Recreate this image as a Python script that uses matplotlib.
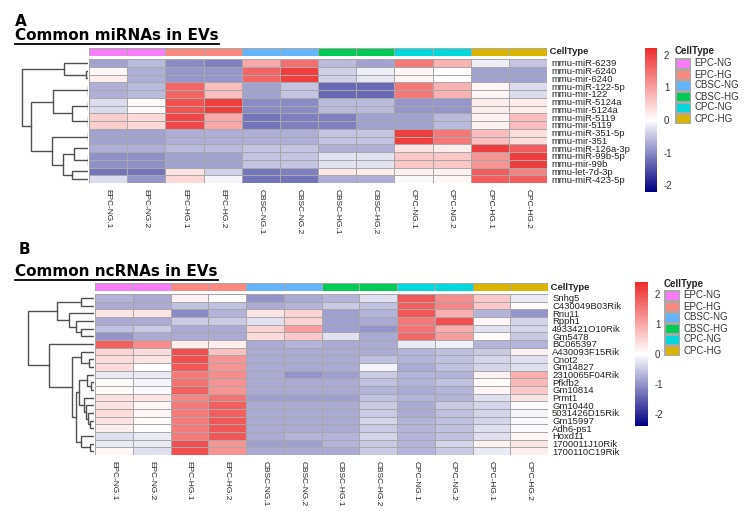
import numpy as np
import matplotlib
matplotlib.use("Agg")
import matplotlib.pyplot as plt
from matplotlib.colors import LinearSegmentedColormap, ListedColormap
from matplotlib.lines import Line2D

W, H = 752, 511

samples = ["EPC-NG.1", "EPC-NG.2", "EPC-HG.1", "EPC-HG.2",
           "CBSC-NG.1", "CBSC-NG.2", "CBSC-HG.1", "CBSC-HG.2",
           "CPC-NG.1", "CPC-NG.2", "CPC-HG.1", "CPC-HG.2"]
groups = ["EPC-NG", "EPC-HG", "CBSC-NG", "CBSC-HG", "CPC-NG", "CPC-HG"]
group_colors = ["#F77CF7", "#FA8A80", "#63B4FA", "#00CC55", "#00D8DC", "#D9B400"]
sample_group = [0, 0, 1, 1, 2, 2, 3, 3, 4, 4, 5, 5]

mirna_names = ["mmu-miR-6239", "mmu-miR-6240", "mmu-mir-6240", "mmu-miR-122-5p",
               "mmu-mir-122", "mmu-miR-5124a", "mmu-mir-5124a", "mmu-miR-5119",
               "mmu-mir-5119", "mmu-miR-351-5p", "mmu-mir-351", "mmu-miR-126a-3p",
               "mmu-miR-99b-5p", "mmu-mir-99b", "mmu-let-7d-3p", "mmu-miR-423-5p"]
mirna_z = [
    [-0.8, -0.6, -1.0, -1.1, 0.9, 1.5, -0.6, -0.8, 1.4, 0.8, -0.15, -0.5],
    [0.1, -0.7, -0.9, -0.9, 1.6, 2.0, -0.4, -0.15, 0.1, 0.02, -0.8, -0.8],
    [0.2, -0.7, -0.9, -0.9, 1.6, 2.0, -0.4, -0.2, 0.1, 0.02, -0.8, -0.8],
    [-0.7, -0.6, 1.6, 0.7, -0.8, -0.5, -1.3, -1.3, 1.4, 0.8, 0.1, -0.3],
    [-0.7, -0.6, 1.6, 0.7, -0.8, -0.5, -1.3, -1.3, 1.4, 0.8, 0.1, -0.3],
    [-0.3, 0.05, 1.8, 2.0, -1.0, -1.0, -0.6, -0.6, -0.9, -0.9, 0.2, 0.2],
    [-0.3, 0.05, 1.8, 2.0, -1.0, -1.0, -0.6, -0.6, -0.9, -0.9, 0.2, 0.2],
    [0.5, 0.4, 1.9, 0.9, -1.2, -1.1, -1.1, -0.8, -0.8, -0.6, 0.15, 0.7],
    [0.5, 0.4, 1.9, 0.9, -1.2, -1.1, -1.1, -0.8, -0.8, -0.6, 0.15, 0.7],
    [-0.8, -0.8, -0.7, -0.7, -0.7, -0.7, -0.5, -0.5, 2.0, 1.4, 0.7, 0.35],
    [-0.8, -0.8, -0.7, -0.7, -0.7, -0.7, -0.5, -0.5, 2.0, 1.4, 0.7, 0.35],
    [-0.7, -0.7, -0.6, -0.6, -0.5, -0.5, -0.7, -0.7, 0.3, 0.2, 2.0, 1.7],
    [-0.95, -0.95, -0.8, -0.8, -0.5, -0.5, -0.25, -0.25, 0.6, 0.6, 1.1, 2.0],
    [-0.95, -0.95, -0.8, -0.8, -0.5, -0.5, -0.25, -0.25, 0.6, 0.6, 1.1, 2.0],
    [-1.2, -1.2, 0.3, -0.4, -1.2, -1.1, 0.25, 0.2, 0.15, 0.15, 1.7, 1.3],
    [-0.3, -0.9, 0.4, -0.1, -1.2, -1.2, -0.7, -0.7, -0.05, 0.1, 1.7, 1.7],
]
# hclust-like merges: (left node, right node, height in px); new node = n_leaves + index
mirna_tree = [(1, 2, 2), (0, 16, 24), (3, 4, 0), (5, 6, 0), (7, 8, 0),
              (19, 20, 16), (18, 21, 35), (9, 10, 0), (12, 13, 0), (11, 24, 14),
              (14, 15, 16), (25, 26, 25), (23, 27, 36), (22, 28, 57), (17, 29, 66)]

ncrna_names = ["Snhg5", "C430049B03Rik", "Rnu11", "Rpph1", "4933421O10Rik", "Gm5478",
               "BC065397", "A430093F15Rik", "Cnot2", "Gm14827", "2310065F04Rik",
               "Pfkfb2", "Gm10814", "Prmt1", "Gm10440", "5031426D15Rik", "Gm15997",
               "Adh6-ps1", "Hoxd11", "1700011J10Rik", "1700110C19Rik"]
ncrna_z = [
    [-0.7, -0.8, 0.15, 0.03, -1.0, -0.8, -0.7, -0.3, 1.9, 1.3, 0.6, -0.2],
    [-0.8, -0.8, -0.6, -0.6, -0.8, -0.7, -0.5, -0.6, 1.8, 1.4, 0.6, 0.05],
    [0.3, 0.3, -1.1, -0.7, 0.3, 0.5, -0.9, -0.7, 1.9, 0.9, -0.7, -1.0],
    [-0.8, -0.8, -0.5, -0.5, -0.3, 0.5, -0.9, -0.8, 1.5, 2.0, 0.1, -0.4],
    [-0.6, -0.5, -0.8, -0.8, 0.5, 1.1, -0.9, -1.0, 1.6, 0.9, -0.3, -0.4],
    [-1.0, -0.8, -0.8, -0.8, 0.4, 0.6, -0.3, -0.8, 1.7, 1.1, 0.05, -0.5],
    [1.8, 1.3, 0.2, 0.2, -0.8, -0.7, -0.8, -0.8, -0.2, -0.15, -0.7, -0.7],
    [0.5, 0.4, 2.0, 0.7, -0.8, -0.8, -0.8, -0.8, -0.7, -0.6, -0.5, 0.15],
    [0.4, 0.3, 2.0, 1.2, -0.8, -0.8, -0.8, -0.6, -0.7, -0.6, -0.4, -0.3],
    [0.4, 0.0, 1.9, 1.2, -0.8, -0.8, -0.8, -0.1, -0.8, -0.6, -0.4, -0.3],
    [-0.2, -0.2, 1.5, 1.3, -0.8, -1.0, -0.9, -0.5, -0.7, -0.7, 0.15, 0.9],
    [0.05, -0.1, 1.6, 1.2, -0.8, -0.8, -0.8, -0.6, -0.7, -0.6, 0.05, 0.8],
    [0.05, -0.05, 1.8, 1.2, -0.8, -0.8, -0.8, -0.7, -0.8, -0.7, 0.1, 0.6],
    [0.35, 0.3, 1.4, 1.6, -0.9, -0.9, -0.9, -0.6, -0.7, -0.7, -0.3, 0.3],
    [0.3, 0.1, 1.5, 1.8, -0.8, -0.8, -0.8, -0.5, -0.8, -0.5, -0.4, -0.05],
    [0.4, 0.1, 1.5, 1.8, -0.8, -0.8, -0.8, -0.5, -0.8, -0.6, -0.4, -0.1],
    [0.3, 0.05, 1.5, 1.9, -0.8, -0.8, -0.8, -0.4, -0.7, -0.6, -0.4, -0.05],
    [0.2, 0.0, 1.5, 1.9, -0.8, -0.8, -0.8, -0.5, -0.7, -0.6, -0.3, -0.05],
    [-0.3, -0.2, 1.5, 1.9, -0.8, -0.7, -0.7, -0.4, -0.7, -0.6, -0.3, 0.1],
    [-0.2, -0.2, 2.0, 1.2, -0.9, -0.9, -0.7, -0.5, -0.7, -0.4, 0.15, 0.3],
    [0.1, -0.3, 2.0, 1.2, -0.8, -0.8, -0.8, -0.5, -0.7, -0.5, -0.2, 0.2],
]
ncrna_tree = [(0, 1, 13), (4, 5, 13), (3, 22, 18), (2, 23, 25), (21, 24, 37),
              (8, 9, 5), (7, 26, 13), (11, 12, 3), (10, 28, 7), (16, 17, 4),
              (15, 30, 6), (14, 31, 8), (13, 32, 10), (29, 33, 15), (19, 20, 4),
              (18, 35, 13), (34, 36, 18), (27, 37, 22), (6, 38, 45), (25, 39, 66)]

heat_cmap = LinearSegmentedColormap.from_list("nwr", ["#000080", "#FFFFFF", "#EE2C2C"])
grid_col = "#A8A8A8"
txt_col = "#222222"
row_size = 6.8
col_size = 5.6
plt.rcParams["font.family"] = ["Liberation Sans", "DejaVu Sans"]

fig = plt.figure(figsize=(W / 100, H / 100), dpi=100)


def px_axes(x0, y0, x1, y1):
    return fig.add_axes([x0 / W, 1 - y1 / H, (x1 - x0) / W, (y1 - y0) / H])


def draw_tree(ax, merges, n):
    pos = {i: i + 0.5 for i in range(n)}
    hgt = {i: 0.0 for i in range(n)}
    for k, (a, b, h) in enumerate(merges):
        ya, yb = pos[a], pos[b]
        ax.plot([hgt[a], h, h, hgt[b]], [ya, ya, yb, yb], color="#505050", lw=1.0,
                solid_joinstyle="miter")
        pos[n + k] = (ya + yb) / 2
        hgt[n + k] = h


def panel(letter, title, names, z, tree, top, left, right, heat_top, heat_bot,
          tree_left, cb_box, vlim, leg_x, leg_y, title_y, letter_x):
    z = np.array(z)
    nrow, ncol = z.shape
    fig.text(letter_x / W, 1 - top / H, letter, fontsize=11, fontweight="bold",
             family="DejaVu Sans", va="top", ha="left")
    t = fig.text(15 / W, 1 - title_y / H, title, fontsize=11, fontweight="bold",
                 family="DejaVu Sans", va="baseline", ha="left")
    r = fig.canvas.get_renderer()
    bb = t.get_window_extent(renderer=r)
    uy = (bb.y0 - 1.0) / H
    fig.add_artist(Line2D([bb.x0 / W, bb.x1 / W], [uy, uy], color="black", lw=1.3))

    # annotation bar
    ann = px_axes(left, heat_top - 11, right, heat_top - 3)
    ann.pcolormesh(np.array([sample_group]), cmap=ListedColormap(group_colors),
                   vmin=-0.5, vmax=5.5, edgecolors=grid_col, linewidth=0.7)
    ann.set_xlim(0, ncol)
    ann.axis("off")
    ann.text(1.0, 0.5, " CellType", transform=ann.transAxes, fontsize=row_size,
             fontweight="bold", va="center", ha="left", color=txt_col)

    # heatmap
    ax = px_axes(left, heat_top, right, heat_bot)
    mesh = ax.pcolormesh(z, cmap=heat_cmap, vmin=-vlim, vmax=vlim,
                         edgecolors=grid_col, linewidth=0.7)
    ax.set_xlim(0, ncol)
    ax.set_ylim(nrow, 0)
    for s in ax.spines.values():
        s.set_visible(False)
    ax.set_xticks(np.arange(ncol) + 0.5)
    ax.set_xticklabels(samples, rotation=270, fontsize=col_size + 0.4, color=txt_col,
                       fontstretch="condensed")
    ax.set_yticks(np.arange(nrow) + 0.5)
    ax.set_yticklabels(names, fontsize=row_size, color=txt_col)
    ax.yaxis.tick_right()
    ax.tick_params(axis="y", length=0, pad=3)
    ax.tick_params(axis="x", length=0, pad=4)

    # row dendrogram
    dax = px_axes(tree_left, heat_top, left - 1, heat_bot)
    draw_tree(dax, tree, nrow)
    dax.set_ylim(nrow, 0)
    dax.set_xlim(left - 1 - tree_left, 0)
    dax.axis("off")

    # colour key
    cax = px_axes(*cb_box)
    cb = fig.colorbar(mesh, cax=cax, ticks=[-2, -1, 0, 1, 2])
    cb.outline.set_visible(False)
    cax.tick_params(length=0, labelsize=7, labelcolor="#333333", pad=5)
    cax.set_yticklabels(["-2", "-1", "0", "1", "2"])

    # group legend
    fig.text(leg_x / W, 1 - (leg_y - 1.5) / H, "CellType", fontsize=7,
             fontweight="bold", va="bottom", ha="left", color=txt_col)
    lax = px_axes(leg_x, leg_y, leg_x + 16, leg_y + 11 * len(groups))
    lax.pcolormesh(np.arange(len(groups)).reshape(-1, 1),
                   cmap=ListedColormap(group_colors), vmin=-0.5, vmax=5.5,
                   edgecolors=grid_col, linewidth=0.8)
    lax.set_ylim(len(groups), 0)
    lax.axis("off")
    for i, g in enumerate(groups):
        lax.text(1.2, i + 0.5, g, transform=lax.get_yaxis_transform(),
                 fontsize=7, va="center", ha="left", color="#333333")


panel("A", "Common miRNAs in EVs", mirna_names, mirna_z, mirna_tree,
      top=14, left=89, right=547, heat_top=59, heat_bot=183, tree_left=10,
      cb_box=(645, 48, 657, 192), vlim=2.2, leg_x=675, leg_y=58,
      title_y=40, letter_x=15)
panel("B", "Common ncRNAs in EVs", ncrna_names, ncrna_z, ncrna_tree,
      top=242, left=95, right=548, heat_top=294, heat_bot=455, tree_left=16,
      cb_box=(635, 282, 648, 426), vlim=2.4, leg_x=664, leg_y=290,
      title_y=276, letter_x=19)

fig.savefig("out.png", dpi=100)
